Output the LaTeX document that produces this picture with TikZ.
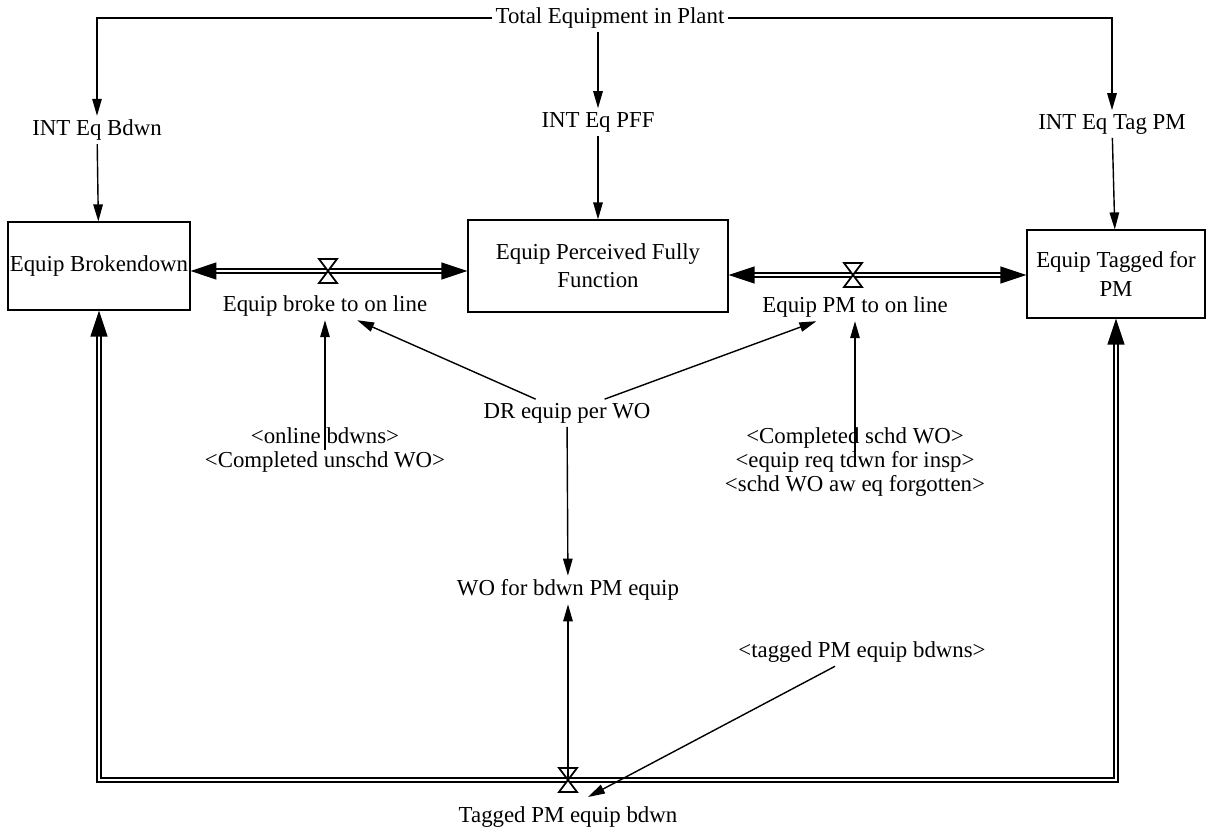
\documentclass[tikz,border=0pt]{standalone}
\usepackage{fontspec}
\setmainfont{Liberation Serif}
\usetikzlibrary{arrows.meta, calc}
\tikzset{
	stock/.style={rectangle, draw=black, line width=0.7pt, text centered, align=center, inner sep=1pt},
	aux/.style={text centered, align=center, inner sep=2pt},
	note/.style={aux, font=\fontsize{13}{13.5}\selectfont},
	infoarrow/.style={-{Triangle[length=3.4mm, width=1.9mm]}, line width=0.8pt},
	pipe/.style={double, double distance=1.6pt, line width=0.8pt, {Triangle[length=5.2mm, width=3.4mm]}-{Triangle[length=5.2mm, width=3.4mm]}},
	% hourglass valve sitting on a pipe
	valve/.pic={\draw[fill=white, line width=1pt] (-9,-12) -- (9,-12) -- (-9,12) -- (9,12) -- cycle;},
}

\begin{document}
\begin{tikzpicture}[x=0.02cm, y=-0.02cm, font=\fontsize{13}{16}\selectfont]
	\useasboundingbox (0,0) rectangle (1211,832);
	% stocks
	\node[stock, minimum width=3.56cm, minimum height=1.76cm] (brk) at (99,266) {Equip Brokendown};
	\node[stock, minimum width=5.2cm, minimum height=1.84cm] (pff) at (598,266) {Equip Perceived Fully\\Function};
	\node[stock, minimum width=3.56cm, minimum height=1.76cm] (tag) at (1116,274) {Equip Tagged for\\PM};
	% auxiliaries and shadow variables
	\node[aux] (tot) at (610,18) {Total Equipment in Plant};
	\node[aux] (ib) at (97,130) {INT Eq Bdwn};
	\node[aux] (ipf) at (598,122) {INT Eq PFF};
	\node[aux] (itp) at (1112,124) {INT Eq Tag PM};
	\node[aux] (dr) at (567,413) {DR equip per WO};
	\node[aux] (wo) at (568,590) {WO for bdwn PM equip};
	\node[note] (onb) at (325,450) {<online bdwns>\\<Completed unschd WO>};
	\node[note] (csw) at (855,462) {<Completed schd WO>\\<equip req tdwn for insp>\\<schd WO aw eq forgotten>};
	\node[aux] (tpe) at (862,652) {<tagged PM equip bdwns>};
	% flows
	\coordinate (vb) at (328,271);
	\coordinate (vp) at (853,275);
	\coordinate (vt) at (568,780);
	\coordinate (tin) at (588,797);
	\node[aux] (brl) at (325,306) {Equip broke to on line};
	\node[aux] (pml) at (855,307) {Equip PM to on line};
	\node[aux] (tgl) at (568,817) {Tagged PM equip bdwn};
	\draw[pipe] (brk.east |- vb) -- (pff.west |- vb);
	\draw[pipe] (pff.east |- vp) -- (tag.west |- vp);
	\draw[pipe] (brk.south) |- (vt) -| (tag.south);
	\pic at (vb) {valve};
	\pic at (vp) {valve};
	\pic at (vt) {valve};
	% links
	\draw[infoarrow] (tot.west) -| (ib);
	\draw[infoarrow] (tot.east) -| (itp);
	\draw[infoarrow] (tot.south -| ipf.north) -- (ipf);
	\draw[infoarrow] (ib) -- (brk);
	\draw[infoarrow] (ipf) -- (pff);
	\draw[infoarrow] (itp) -- (tag);
	\draw[infoarrow] (dr) -- (brl);
	\draw[infoarrow] (dr) -- (pml);
	\draw[infoarrow] (dr) -- (wo);
	\draw[infoarrow] (vt) -- (wo);
	\draw[infoarrow] (onb.center) -- (onb.center |- brl.south);
	\draw[infoarrow] (csw.center) -- (csw.center |- pml.south);
	\draw[infoarrow] (tpe) -- (tin);
\end{tikzpicture}
\end{document}
